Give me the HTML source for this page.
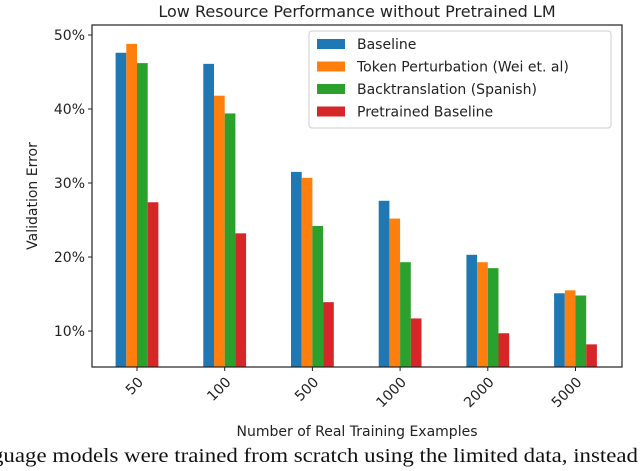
<!DOCTYPE html>
<html><head><meta charset="utf-8"><style>
body{margin:0;background:#fff;width:640px;height:467px;overflow:hidden;font-family:"DejaVu Sans","Liberation Sans",sans-serif}
</style></head><body>
<svg width="640" height="467" xmlns="http://www.w3.org/2000/svg">
<g id="plot"></g>
<text x="357" y="17" text-anchor="middle" font-size="16" fill="#222">Low Resource Performance without Pretrained LM</text>
<text x="357" y="436" text-anchor="middle" font-size="14" fill="#222">Number of Real Training Examples</text>
<text transform="translate(37,196) rotate(-90)" text-anchor="middle" font-size="14" fill="#222">Validation Error</text>
<text x="-8" y="462" font-family="Liberation Serif,serif" font-size="20" fill="#111" textLength="646" lengthAdjust="spacingAndGlyphs">guage models were trained from scratch using the limited data, instead</text>
</svg>
<script>
const categories=["50","100","500","1000","2000","5000"];
const seriesNames=["Baseline","Token Perturbation (Wei et. al)","Backtranslation (Spanish)","Pretrained Baseline"];
const baseline=[47.6,46.1,31.5,27.6,20.3,15.1];
const tokenPert=[48.8,41.8,30.7,25.2,19.3,15.5];
const backtrans=[46.2,39.4,24.2,19.3,18.5,14.8];
const pretrained=[27.4,23.2,13.9,11.7,9.7,8.2];
const yTicks=[10,20,30,40,50];
const series=[baseline,tokenPert,backtrans,pretrained];
const colors=["#1f77b4","#ff7f0e","#2ca02c","#d62728"];
const L=92,R=622,T=25,B=367,yMin=5.14,yMax=51.35;
const y=v=>B-(v-yMin)/(yMax-yMin)*(B-T);
const xc=i=>137+i*87.7;
const bw=10.7;
const g=document.getElementById('plot');
const NS="http://www.w3.org/2000/svg";
function mk(t,a){const e=document.createElementNS(NS,t);for(const k in a)e.setAttribute(k,a[k]);g.appendChild(e);return e;}
series.forEach((s,si)=>s.forEach((v,i)=>{
 const r=mk('rect',{x:xc(i)-2*bw+si*bw,y:y(v),width:bw,height:B-y(v),fill:colors[si]});
 
 
}));
const fr=mk('rect',{x:L,y:T,width:R-L,height:B-T,fill:'none',stroke:'#222','stroke-width':1.2});


yTicks.forEach(t=>{
 mk('line',{x1:L-4,x2:L,y1:y(t),y2:y(t),stroke:'#222'});
 const tx=mk('text',{x:L-7,y:y(t)+5,'text-anchor':'end','font-size':14,fill:'#222'});
 tx.textContent=t+'%';
 
 
});
categories.forEach((c,i)=>{
 mk('line',{x1:xc(i),x2:xc(i),y1:B,y2:B+4,stroke:'#222'});
 const tx=mk('text',{transform:`translate(${xc(i)+7},${B+16}) rotate(-45)`,'text-anchor':'end','font-size':14,fill:'#222'});
 tx.textContent=c;
 
 
});
const lg=mk('rect',{x:309,y:31,width:302,height:97,fill:'#fff',stroke:'#ccc',rx:3});


seriesNames.forEach((n,i)=>{
 const yy=39+i*22.5;
 mk('rect',{x:317,y:yy,width:28,height:10,fill:colors[i]});
 const tx=mk('text',{x:357,y:yy+10,'font-size':14,fill:'#222'});
 tx.textContent=n;
 
 
});
</script>
</body></html>
